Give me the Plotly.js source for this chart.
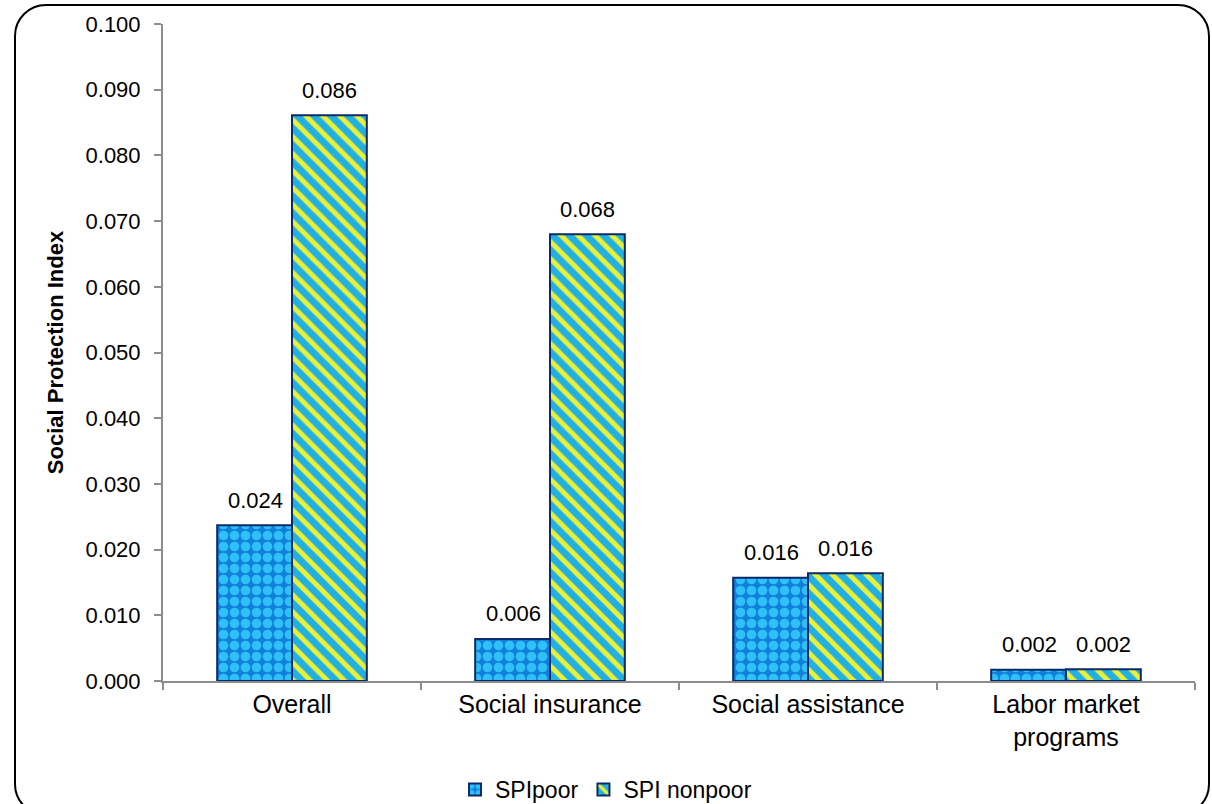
<!DOCTYPE html>
<html><head><meta charset="utf-8">
<script src="https://cdn.plot.ly/plotly-3.0.1.min.js"></script>
<style>
html,body{margin:0;padding:0;background:#fff;overflow:hidden;}
#wrap{position:relative;width:1212px;height:804px;overflow:hidden;}
#chart{position:absolute;left:0;top:0;width:1212px;height:804px;}
#frame{position:absolute;left:14px;top:4px;width:1196px;height:812px;border:2px solid #000;border-radius:32px;pointer-events:none;box-sizing:border-box;}
</style></head>
<body><div id="wrap"><div id="chart"></div><div id="frame"></div></div>
<script>
const categories = ["Overall", "Social insurance", "Social assistance", "Labor market<br>programs"];
const spiPoor = [0.0237, 0.0064, 0.0157, 0.0017];
const spiNonpoor = [0.0861, 0.0680, 0.0164, 0.0018];
const seriesNames = ["SPIpoor", "SPI nonpoor"];

const fam = "Liberation Sans, Arial, sans-serif";
const traces = [
  {type: "bar", name: seriesNames[0], x: categories, y: spiPoor,
   marker: {color: "#1aa0e8", line: {color: "#0c2a6a", width: 2},
            pattern: {shape: ".", bgcolor: "#1080da", fgcolor: "#2ec0f6", size: 11, solidity: 0.6}}},
  {type: "bar", name: seriesNames[1], x: categories, y: spiNonpoor,
   marker: {color: "#20b4e0", line: {color: "#0c2a6a", width: 2},
            pattern: {shape: "\\", bgcolor: "#22b0e2", fgcolor: "#e8f03a", size: 12, solidity: 0.42}}}
];

const annotations = [];
[spiPoor, spiNonpoor].forEach((vals, s) => {
  vals.forEach((v, i) => {
    annotations.push({x: categories[i], y: v, xref: "x", yref: "y", text: v.toFixed(3),
      showarrow: false, xshift: s === 0 ? -37 : 37, yshift: 25, yanchor: "middle",
      font: {size: 22, family: fam, color: "#000"}});
  });
});

const layout = {
  width: 1212, height: 804,
  margin: {l: 163, r: 17, t: 24, b: 123},
  paper_bgcolor: "#fff", plot_bgcolor: "#fff",
  font: {family: fam, size: 22, color: "#000"},
  barmode: "group", bargap: 0.42, bargroupgap: 0,
  showlegend: true,
  legend: {orientation: "h", x: 0.5, xanchor: "center", xref: "container",
           y: 0.018, yanchor: "middle", yref: "container",
           font: {size: 23}, traceorder: "normal", itemwidth: 30},
  annotations: annotations,
  xaxis: {type: "category", showline: true, linecolor: "#8c8c8c", linewidth: 2,
          ticks: "outside", tickson: "boundaries", ticklen: 7, tickcolor: "#8c8c8c", tickwidth: 2,
          tickfont: {size: 25}, showgrid: false, zeroline: false},
  yaxis: {range: [0, 0.1], dtick: 0.01, tickformat: ".3f", showline: true, linecolor: "#8c8c8c", linewidth: 2,
          ticks: "outside", ticklen: 7, tickcolor: "#8c8c8c", tickwidth: 2, showgrid: false, zeroline: false,
          tickfont: {size: 22}, ticklabelstandoff: 9,
          title: {text: "<b>Social Protection Index</b>", font: {size: 22}, standoff: 16}}
};
Plotly.newPlot("chart", traces, layout, {displayModeBar: false, staticPlot: true});
</script></body></html>
